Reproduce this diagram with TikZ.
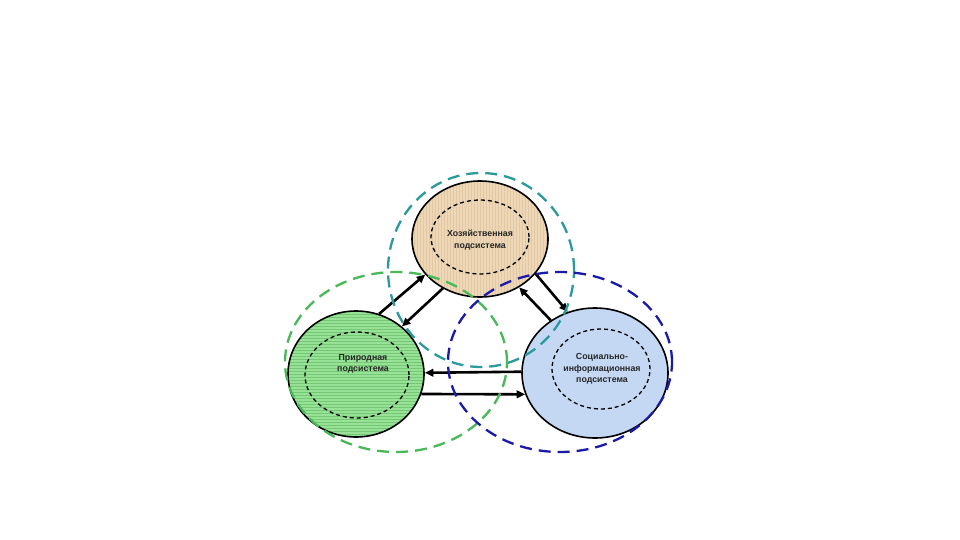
\documentclass[tikz,border=0pt]{standalone}
\usepackage{fontspec}
\setmainfont{Liberation Sans}
\usetikzlibrary{shapes.geometric,arrows.meta,patterns}
\definecolor{beigeF}{HTML}{EDD7B6}
\definecolor{beigeL}{HTML}{E2C9A4}
\definecolor{greenF}{HTML}{98E298}
\definecolor{greenL}{HTML}{74C874}
\definecolor{blueF}{HTML}{C4D8F4}
\definecolor{tealD}{HTML}{2A9A9C}
\definecolor{greenD}{HTML}{48B858}
\definecolor{blueD}{HTML}{1A1AAA}
\tikzset{
  sub/.style={ellipse, draw=black, line width=1.6pt, inner sep=0pt},
  inner/.style={ellipse, draw=black, line width=1.3pt, dash pattern=on 4pt off 3pt, inner sep=0pt},
  outer/.style={ellipse, line width=2.3pt, dash pattern=on 12pt off 7pt, inner sep=0pt},
  lbl/.style={align=center, font=\fontsize{8.8}{11.5}\selectfont\bfseries, text=black!85, inner sep=0pt},
  flow/.style={line width=2.6pt, -{Triangle[length=8.5pt,width=7.5pt]}}
}
\begin{document}
\begin{tikzpicture}[x=1pt,y=-1pt]
\useasboundingbox[fill=white] (0,0) rectangle (960,540);
% filled subsystems
\node[sub, minimum width=136pt, minimum height=116pt,
      preaction={fill=beigeF}, pattern=vertical lines, pattern color=beigeL] (T) at (480,239) {};
\node[sub, minimum width=136pt, minimum height=126pt,
      preaction={fill=greenF}, pattern=horizontal lines, pattern color=greenL] (N) at (356,374) {};
\node[sub, minimum width=146pt, minimum height=130pt, fill=blueF] (B) at (595,373) {};
% inner dashed ellipses
\node[inner, minimum width=98pt, minimum height=74pt] (Ti) at (480,237) {};
\node[inner, minimum width=104pt, minimum height=86pt] (Ni) at (357,375) {};
\node[inner, minimum width=98pt, minimum height=80pt] (Bi) at (601,369) {};
% labels
\node[lbl] (Tt) at (480,240) {Хозяйственная\\подсистема};
\node[lbl] (Nt) at (363,364) {Природная\\подсистема};
\node[lbl] (Bt) at (602,369) {Социально-\\информационная\\подсистема};
% connectors
\draw[flow] (N.69) -- (T.213);
\draw[flow] (T.233) -- (N.46);
\draw[flow] (B.130) -- (T.309);
\draw[flow] (T.328) -- (B.114);
\draw[flow] (B.179) -- (N.1.5);
\draw[flow] (N.343) -- (B.197);
% outer dashed circles
\node[outer, draw=tealD, minimum width=186pt, minimum height=194pt] (To) at (481,270) {};
\node[outer, draw=greenD, minimum width=222pt, minimum height=180pt] (No) at (396,362) {};
\node[outer, draw=blueD, minimum width=224pt, minimum height=180pt] (Bo) at (560,362) {};
\end{tikzpicture}
\end{document}
